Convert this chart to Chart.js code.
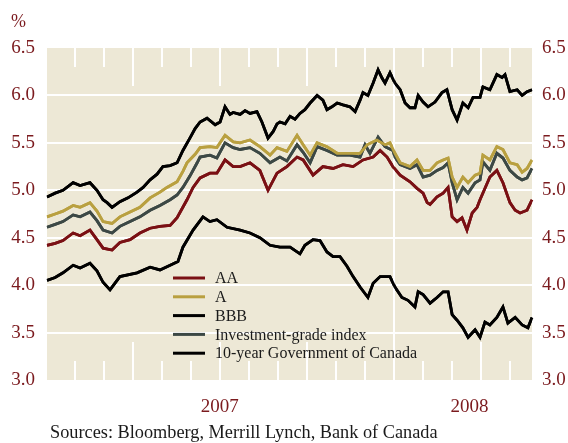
<!DOCTYPE html>
<html>
<head>
<meta charset="utf-8">
<script src="https://cdn.jsdelivr.net/npm/chart.js@4/dist/chart.umd.min.js"></script>
<style>
	html, body { margin: 0; padding: 0; background: #fff; }
	#wrap { width: 568px; height: 443px; }
</style>
</head>
<body>
<div id="wrap"><canvas id="spreads" width="568" height="443"></canvas></div>
<script>
/**
 * Corporate bond yields vs 10-year Government of Canada
 * x values are months since 1 January 2007
 */

var aaMonths = [0.05,0.33,0.60,0.95,1.19,1.53,1.77,1.98,2.29,2.56,2.91,3.25,3.60,3.94,4.29,4.53,4.87,5.08,5.32,5.66,5.90,6.18,6.46,6.70,7.04,7.38,7.66,7.97,8.31,8.66,8.87,9.21,9.55,9.90,10.24,10.59,10.93,11.28,11.52,11.76,11.96,12.21,12.55,12.79,13.00,13.14,13.24,13.48,13.69,13.86,14.00,14.17,14.34,14.51,14.69,14.86,14.96,15.30,15.54,15.75,15.99,16.17,16.34,16.58,16.75];
var aaYield  = [4.42,4.44,4.47,4.55,4.52,4.58,4.48,4.39,4.37,4.45,4.48,4.55,4.6,4.62,4.63,4.71,4.9,5.03,5.13,5.18,5.18,5.32,5.25,5.25,5.29,5.21,5.0,5.18,5.25,5.35,5.32,5.16,5.25,5.23,5.27,5.25,5.32,5.35,5.42,5.35,5.25,5.16,5.09,5.02,4.97,4.87,4.85,4.93,4.97,5.03,4.72,4.67,4.71,4.58,4.76,4.82,4.9,5.14,5.21,5.08,4.87,4.79,4.76,4.79,4.9];

var aMonths = [0.05,0.33,0.60,0.95,1.19,1.53,1.77,1.98,2.29,2.56,2.91,3.25,3.60,3.94,4.18,4.53,4.73,4.87,5.15,5.32,5.66,5.90,6.18,6.46,6.70,7.04,7.38,7.73,7.97,8.31,8.66,8.87,9.11,9.35,9.69,10.04,10.48,10.83,11.07,11.41,11.69,11.86,12.03,12.21,12.55,12.79,13.00,13.24,13.48,13.69,13.86,14.00,14.17,14.37,14.55,14.79,14.96,15.06,15.30,15.54,15.75,15.99,16.24,16.41,16.58,16.75];
var aYield  = [4.72,4.75,4.78,4.84,4.82,4.87,4.78,4.67,4.65,4.72,4.77,4.82,4.92,4.98,5.03,5.09,5.2,5.29,5.38,5.45,5.46,5.45,5.58,5.51,5.5,5.53,5.46,5.37,5.45,5.41,5.58,5.48,5.37,5.5,5.46,5.39,5.39,5.39,5.48,5.53,5.48,5.5,5.39,5.29,5.25,5.32,5.21,5.21,5.29,5.32,5.34,5.14,5.03,5.14,5.08,5.16,5.18,5.37,5.32,5.46,5.43,5.29,5.27,5.19,5.23,5.32];

var bbbMonths = [0.05,0.33,0.60,0.95,1.19,1.53,1.77,1.98,2.12,2.29,2.56,2.84,3.15,3.36,3.60,3.84,4.04,4.29,4.53,4.73,4.97,5.15,5.32,5.56,5.84,6.01,6.18,6.35,6.46,6.70,6.87,7.04,7.28,7.45,7.66,7.84,7.97,8.07,8.25,8.42,8.59,8.76,8.93,9.11,9.35,9.55,9.69,9.86,10.04,10.24,10.48,10.66,10.83,10.93,11.10,11.28,11.45,11.59,11.69,11.86,12.03,12.21,12.38,12.55,12.72,12.83,13.00,13.17,13.41,13.65,13.82,14.00,14.17,14.37,14.55,14.72,14.96,15.06,15.30,15.54,15.72,15.82,15.99,16.24,16.41,16.58,16.75];
var bbbYield  = [4.93,4.97,5.0,5.08,5.05,5.08,5.0,4.9,4.87,4.82,4.88,4.92,4.98,5.03,5.11,5.17,5.25,5.26,5.29,5.42,5.55,5.65,5.72,5.76,5.69,5.72,5.88,5.8,5.82,5.8,5.84,5.81,5.83,5.72,5.55,5.62,5.7,5.72,5.7,5.78,5.75,5.81,5.85,5.92,6.0,5.95,5.85,5.88,5.92,5.9,5.88,5.83,5.95,6.03,6.0,6.13,6.27,6.18,6.13,6.24,6.13,6.06,5.92,5.87,5.87,6.0,5.93,5.88,5.93,6.03,6.06,5.85,5.74,5.92,5.87,5.98,5.98,6.09,6.06,6.22,6.19,6.22,6.04,6.06,6.0,6.04,6.06];

var igMonths = [0.05,0.33,0.60,0.95,1.19,1.53,1.77,1.98,2.29,2.56,2.91,3.25,3.60,3.94,4.29,4.53,4.73,4.97,5.22,5.32,5.66,5.90,6.18,6.46,6.70,7.04,7.38,7.73,8.07,8.31,8.66,8.87,9.11,9.35,9.69,10.04,10.48,10.83,11.00,11.17,11.45,11.69,11.96,12.03,12.21,12.55,12.79,13.00,13.24,13.48,13.69,13.86,14.00,14.17,14.37,14.55,14.79,14.96,15.06,15.30,15.54,15.75,15.99,16.24,16.41,16.58,16.75];
var igYield  = [4.61,4.64,4.67,4.74,4.72,4.77,4.68,4.58,4.55,4.62,4.67,4.72,4.79,4.84,4.9,4.95,5.03,5.15,5.29,5.35,5.37,5.34,5.5,5.45,5.43,5.45,5.39,5.29,5.35,5.31,5.48,5.4,5.29,5.46,5.42,5.37,5.37,5.35,5.48,5.39,5.56,5.46,5.42,5.35,5.27,5.23,5.27,5.14,5.16,5.21,5.24,5.29,5.08,4.9,5.03,4.97,5.08,5.11,5.3,5.21,5.39,5.34,5.21,5.14,5.11,5.13,5.23];

var govMonths = [0.05,0.33,0.60,0.95,1.19,1.53,1.77,1.98,2.22,2.56,3.15,3.60,3.94,4.29,4.56,4.73,5.08,5.42,5.66,5.90,6.25,6.70,7.04,7.38,7.73,8.07,8.42,8.76,8.93,9.21,9.45,9.69,9.90,10.14,10.38,10.59,10.83,11.10,11.28,11.52,11.86,12.03,12.27,12.48,12.72,12.83,13.00,13.24,13.48,13.69,13.86,14.00,14.17,14.37,14.55,14.79,14.96,15.13,15.30,15.54,15.75,15.92,16.17,16.41,16.61,16.75];
var govYield  = [4.05,4.08,4.13,4.21,4.18,4.23,4.15,4.03,3.95,4.09,4.13,4.19,4.16,4.21,4.25,4.4,4.58,4.72,4.67,4.69,4.61,4.58,4.55,4.5,4.42,4.4,4.4,4.33,4.42,4.48,4.47,4.35,4.3,4.3,4.2,4.09,3.98,3.87,4.02,4.09,4.09,3.98,3.87,3.84,3.77,3.93,3.9,3.81,3.87,3.93,3.93,3.69,3.63,3.55,3.45,3.53,3.45,3.61,3.58,3.66,3.77,3.6,3.66,3.58,3.55,3.66];

var seriesNames = [ 'AA', 'A', 'BBB', 'Investment-grade index', '10-year Government of Canada' ];
var monthMarks = [ 1, 2, 3, 4, 5, 6, 7, 8, 9, 10, 11, 12, 13, 14, 15, 16 ];
var yearTicks  = [ 6, 14.6 ];
var yearLabels = [ '2007', '2008' ];

var SERIF = '"Liberation Serif", "Times New Roman", serif';
var RED   = '#7b1a1e';
var BEIGE = '#ede8d6';

function points( xs, ys ) {
	return ys.map( function( y, i ) { return { x: xs[i], y: y }; } );
}

function makeDataset( label, xs, ys, color ) {
	return {
		label: label,
		data: points( xs, ys ),
		borderColor: color,
		backgroundColor: color,
		borderWidth: 2.8,
		pointRadius: 0,
		tension: 0,
		fill: false,
		yAxisID: 'y'
	};
}

/* ═══ PLUGINS ═══ */

var panelBg = {
	id: 'panelBg',
	beforeDraw: function( chart ) {
		var ctx = chart.ctx, a = chart.chartArea;
		ctx.save();
		ctx.fillStyle = '#fff';
		ctx.fillRect( 0, 0, chart.width, chart.height );
		ctx.fillStyle = BEIGE;
		ctx.fillRect( a.left, a.top, a.right - a.left, a.bottom - a.top );
		ctx.restore();
	}
};

// white month ticks inside the panel: longer at quarters, full line at the new year
function drawMonthMarks( chart ) {
	var ctx = chart.ctx, a = chart.chartArea, xs = chart.scales.x;
	var h = a.bottom - a.top;
	ctx.save();
	ctx.fillStyle = '#ffffff';
	monthMarks.forEach( function( m ) {
		var px = xs.getPixelForValue( m );
		if ( ! isFinite( px ) ) px = a.left + ( m - 0.05 ) / 16.7 * ( a.right - a.left );
		px = Math.round( px ) - 1;
		var len = 19;
		if ( m % 3 === 0 ) len = 38;
		if ( m % 12 === 0 ) len = h;
		ctx.fillRect( px, a.top, 2, len );
		ctx.fillRect( px, a.bottom - len, 2, len );
	});
	ctx.restore();
}

var annotations = {
	id: 'annotations',
	afterDraw: function( chart ) {
		var ctx = chart.ctx;

		// ticks, then the series again so the lines sit on top of them
		drawMonthMarks( chart );
		var metas = chart.getSortedVisibleDatasetMetas();
		for ( var k = metas.length - 1; k >= 0; k-- ) {
			metas[k].controller.draw();
		}

		ctx.save();
		ctx.fillStyle = RED;
		ctx.font = '18px ' + SERIF;
		ctx.textAlign = 'left';
		ctx.textBaseline = 'alphabetic';
		ctx.fillText( '%', 11, 27 );

		ctx.fillStyle = '#1a1a1a';
		ctx.font = '18.3px ' + SERIF;
		ctx.fillText( 'Sources: Bloomberg, Merrill Lynch, Bank of Canada', 50, 438 );

		// legend
		ctx.font = '16px ' + SERIF;
		ctx.textBaseline = 'middle';
		chart.data.datasets.forEach( function( ds, i ) {
			var y = 278 + i * 18.8;
			ctx.strokeStyle = ds.borderColor;
			ctx.lineWidth = 3;
			ctx.beginPath();
			ctx.moveTo( 173, y );
			ctx.lineTo( 205, y );
			ctx.stroke();
			ctx.fillStyle = '#1a1a1a';
			ctx.fillText( ds.label, 215, y + 1 );
		});

		ctx.restore();
	}
};

/* ═══ CHART ═══ */

new Chart( document.getElementById( 'spreads' ).getContext( '2d' ), {
	type: 'line',
	data: {
		datasets: [
			makeDataset( seriesNames[0], aaMonths, aaYield, '#7a1014' ),
			makeDataset( seriesNames[1], aMonths, aYield, '#b9a040' ),
			makeDataset( seriesNames[2], bbbMonths, bbbYield, '#000000' ),
			makeDataset( seriesNames[3], igMonths, igYield, '#3c4845' ),
			makeDataset( seriesNames[4], govMonths, govYield, '#000000' )
		]
	},
	options: {
		responsive: false,
		animation: false,
		devicePixelRatio: 1,
		layout: { padding: { top: 48, left: 0, right: 0, bottom: 0 } },
		plugins: {
			legend: { display: false },
			tooltip: { enabled: false }
		},
		scales: {
			x: {
				type: 'linear',
				min: 0.05,
				max: 16.75,
				grid: { display: false, drawTicks: false },
				border: { display: false },
				afterBuildTicks: function( scale ) {
					scale.ticks = yearTicks.map( function( v ) { return { value: v }; } );
				},
				afterFit: function( scale ) { scale.height = 63; },
				ticks: {
					autoSkip: false,
					maxRotation: 0,
					padding: 16,
					color: RED,
					font: { family: SERIF, size: 19 },
					callback: function( v ) {
						var i = yearTicks.indexOf( v );
						return i >= 0 ? yearLabels[i] : '';
					}
				}
			},
			y: {
				position: 'left',
				min: 3,
				max: 6.5,
				border: { display: false },
				grid: {
					drawTicks: false,
					lineWidth: 2,
					color: function( c ) {
						var v = c.tick ? c.tick.value : 0;
						return ( v > 3.01 && v < 6.49 ) ? '#ffffff' : 'rgba(0,0,0,0)';
					}
				},
				afterFit: function( scale ) { scale.width = 47; },
				ticks: {
					stepSize: 0.5,
					padding: 12,
					color: RED,
					font: { family: SERIF, size: 19 },
					callback: function( v ) { return v.toFixed( 1 ); }
				}
			},
			y2: {
				position: 'right',
				min: 3,
				max: 6.5,
				border: { display: false },
				grid: { display: false, drawTicks: false },
				afterFit: function( scale ) { scale.width = 36; },
				ticks: {
					stepSize: 0.5,
					padding: 10,
					color: RED,
					font: { family: SERIF, size: 19 },
					callback: function( v ) { return v.toFixed( 1 ); }
				}
			}
		}
	},
	plugins: [ panelBg, annotations ]
});
</script>
</body>
</html>
